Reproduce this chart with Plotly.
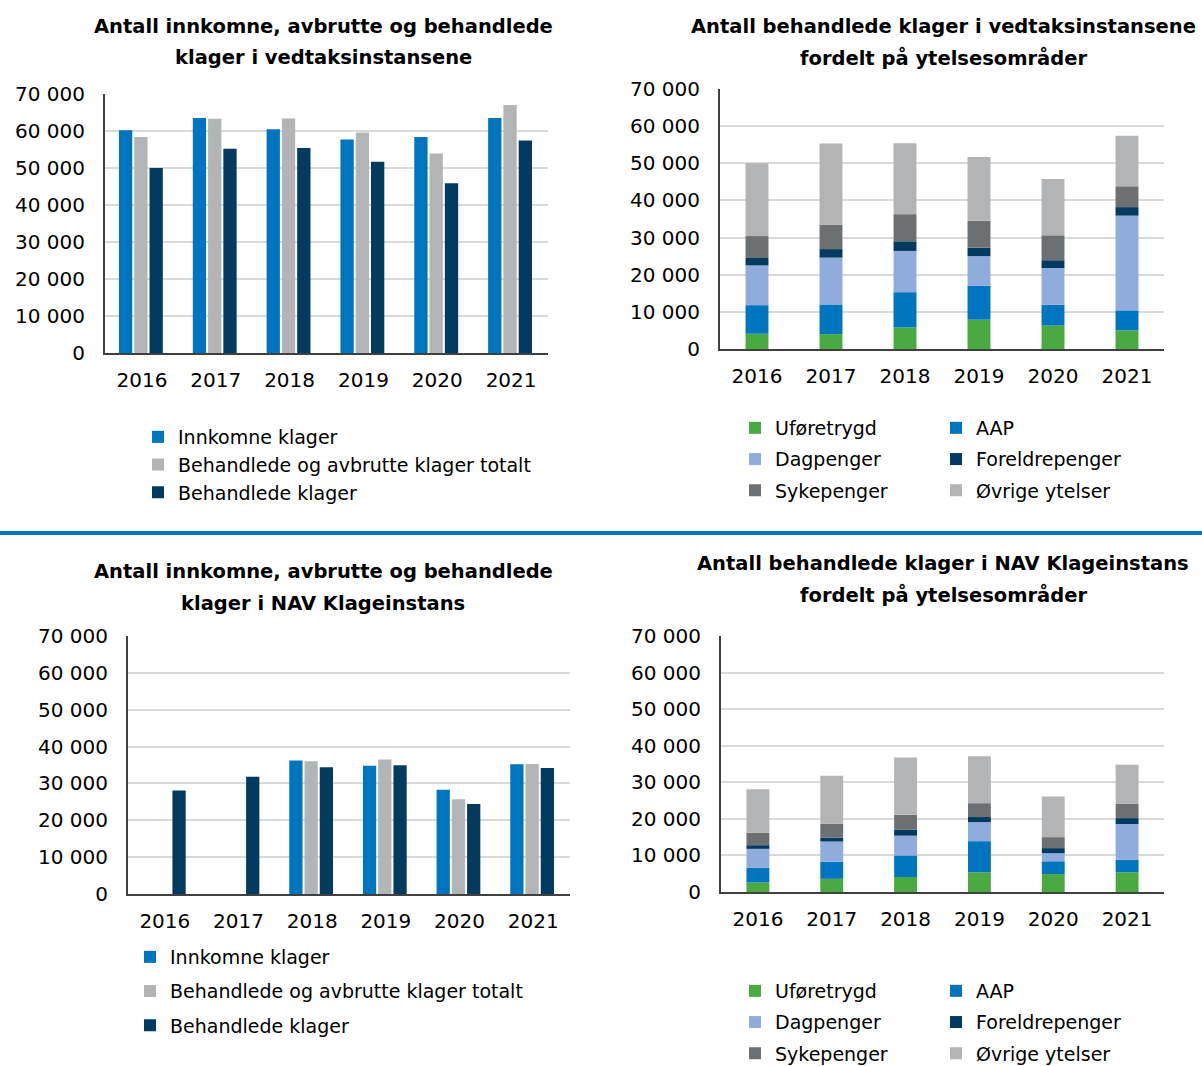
import numpy as np
import plotly.graph_objects as go

W, H = 1202, 1066

years = ["2016", "2017", "2018", "2019", "2020", "2021"]

# Chart 1: vedtaksinstansene
v_innkomne = [60200, 63500, 60500, 57700, 58400, 63500]
v_beh_avbr = [58400, 63300, 63400, 59600, 53900, 67000]
v_behandlede = [50000, 55200, 55400, 51700, 45900, 57400]

# Chart 2: behandlede i vedtaksinstansene per ytelsesområde
v_uforetrygd = [4100, 4000, 5800, 7900, 6300, 5000]
v_aap = [7700, 8000, 9500, 9100, 5600, 5400]
v_dagpenger = [10700, 12600, 11100, 8000, 9900, 25500]
v_foreldrepenger = [2000, 2300, 2600, 2300, 2100, 2300]
v_sykepenger = [5900, 6600, 7300, 7200, 6700, 5600]
v_ovrige = [19600, 21800, 19100, 17200, 15200, 13600]

# Chart 3: NAV Klageinstans
k_innkomne = [None, None, 36200, 34800, 28300, 35200]
k_beh_avbr = [None, None, 36000, 36500, 25700, 35300]
k_behandlede = [28100, 31800, 34400, 34900, 24400, 34200]

# Chart 4: behandlede i NAV Klageinstans per ytelsesområde
k_uforetrygd = [2600, 3600, 4100, 5400, 4900, 5400]
k_aap = [4000, 4700, 5900, 8500, 3500, 3400]
k_dagpenger = [5200, 5500, 5400, 5200, 2200, 9800]
k_foreldrepenger = [1000, 1100, 1600, 1400, 1400, 1600]
k_sykepenger = [3400, 3800, 4100, 3800, 3000, 3900]
k_ovrige = [11900, 13100, 15700, 12800, 11100, 10700]

BLUE = "#0075BF"
GRAY = "#B3B4B6"
NAVY = "#023B5F"
GREEN = "#4AAA42"
LBLUE = "#8FACDC"
DGRAY = "#6C7073"

FONT = "DejaVu Sans"

fig = go.Figure()


def px_x(p):
    return p / W


def px_y(p):
    return 1 - p / H


# grouped bars (charts 1 and 3)
def grouped(xa, ya, series, legend):
    names = ["Innkomne klager", "Behandlede og avbrutte klager totalt", "Behandlede klager"]
    colors = [BLUE, GRAY, NAVY]
    width = 0.18
    step = 0.207
    start = -0.311
    for i, (name, vals, col) in enumerate(zip(names, series, colors)):
        fig.add_trace(go.Bar(
            x=years, y=vals, name=name, marker_color=col, marker_line_width=0,
            width=width, offset=start + i * step,
            xaxis=xa, yaxis=ya, legend=legend, legendgroup=legend + str(i),
        ))


def stacked(xa, ya, series, legends):
    names = ["Uføretrygd", "AAP", "Dagpenger", "Foreldrepenger", "Sykepenger", "Øvrige ytelser"]
    colors = [GREEN, BLUE, LBLUE, NAVY, DGRAY, GRAY]
    base = np.zeros(len(years))
    for i, (name, vals, col) in enumerate(zip(names, series, colors)):
        fig.add_trace(go.Bar(
            x=years, y=vals, base=base.copy(), name=name, marker_color=col,
            marker_line_width=0, width=0.31,
            xaxis=xa, yaxis=ya, legend=legends[i % 2], legendgroup=legends[i % 2] + str(i),
        ))
        base = base + np.array(vals)


grouped("x", "y", [v_innkomne, v_beh_avbr, v_behandlede], "legend")
stacked("x2", "y2", [v_uforetrygd, v_aap, v_dagpenger, v_foreldrepenger, v_sykepenger, v_ovrige],
        ["legend2", "legend3"])
grouped("x3", "y3", [k_innkomne, k_beh_avbr, k_behandlede], "legend4")
stacked("x4", "y4", [k_uforetrygd, k_aap, k_dagpenger, k_foreldrepenger, k_sykepenger, k_ovrige],
        ["legend5", "legend6"])

plots = {
    "": ((105, 548), (94, 353)),
    "2": ((720, 1164), (89, 349)),
    "3": ((128, 570), (636, 894)),
    "4": ((721, 1164), (636, 892)),
}

layout = dict(
    width=W, height=H,
    margin=dict(l=0, r=0, t=0, b=0, pad=0, autoexpand=False),
    paper_bgcolor="white", plot_bgcolor="white",
    barmode="overlay",
    separators=", ",
    showlegend=True,
    font=dict(family=FONT, color="#000000", size=19),
)

for k, ((x0, x1), (y0, y1)) in plots.items():
    layout["xaxis" + k] = dict(
        domain=[px_x(x0), px_x(x1)], anchor="y" + k,
        type="category", showline=True, linecolor="#404040", linewidth=2,
        showgrid=False, ticks="", tickfont=dict(size=20, family=FONT, color="#000"),
        ticklabelstandoff=8, fixedrange=True, automargin=False,
    )
    layout["yaxis" + k] = dict(
        domain=[px_y(y1), px_y(y0)], anchor="x" + k,
        range=[0, 70000], dtick=10000, tickformat=",d",
        showline=True, linecolor="#404040", linewidth=2,
        showgrid=True, gridcolor="#D9D9D9", gridwidth=2, zeroline=False,
        ticks="", tickfont=dict(size=20, family=FONT, color="#000"),
        ticklabelstandoff=14, fixedrange=True, automargin=False,
    )


def leg(x, ytop, gap):
    return dict(
        x=px_x(x), y=px_y(ytop), xanchor="left", yanchor="top",
        orientation="v", traceorder="grouped", tracegroupgap=gap,
        bgcolor="rgba(0,0,0,0)", borderwidth=0,
        font=dict(size=19, family=FONT, color="#000"),
        itemclick=False, itemdoubleclick=False,
    )


layout["legend"] = leg(138, 418, 0)
layout["legend2"] = leg(735, 409, 3.5)
layout["legend3"] = leg(936, 409, 3.5)
layout["legend4"] = leg(130, 938, 6.5)
layout["legend5"] = leg(735, 972, 3.5)
layout["legend6"] = leg(936, 972, 3.5)

titles = [
    ("Antall innkomne, avbrutte og behandlede", 323, 26),
    ("klager i vedtaksinstansene", 323, 58),
    ("Antall behandlede klager i vedtaksinstansene", 943, 26),
    ("fordelt på ytelsesområder", 943, 58),
    ("Antall innkomne, avbrutte og behandlede", 323, 571),
    ("klager i NAV Klageinstans", 323, 603),
    ("Antall behandlede klager i NAV Klageinstans", 943, 563),
    ("fordelt på ytelsesområder", 943, 595),
]
layout["annotations"] = [
    dict(text="<b>%s</b>" % t, x=px_x(cx), y=px_y(cy), xref="paper", yref="paper",
         xanchor="center", yanchor="middle", showarrow=False,
         font=dict(size=19.5, family=FONT, color="#000"))
    for t, cx, cy in titles
]
layout["shapes"] = [
    dict(type="line", xref="paper", yref="paper", x0=0, x1=1,
         y0=px_y(533), y1=px_y(533), line=dict(color=BLUE, width=4))
]

fig.update_layout(**layout)
fig.write_html("out.html", config={"displayModeBar": False})
